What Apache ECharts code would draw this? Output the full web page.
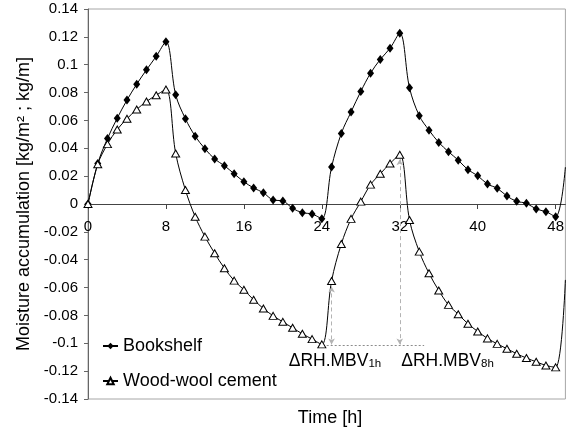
<!DOCTYPE html>
<html>
<head>
<meta charset="utf-8">
<script src="https://cdn.jsdelivr.net/npm/echarts@6/dist/echarts.min.js"></script>
<style>
  html, body { margin: 0; padding: 0; background: #fff; }
  #chart { width: 567px; height: 430px; }
</style>
</head>
<body>
<div id="chart"></div>
<script>
// Time in hours (one reading per hour over two 24 h cycles)
const hours = [
  0, 1, 2, 3, 4, 5, 6, 7, 8, 9, 10, 11, 12, 13, 14, 15, 16, 17, 18, 19, 20, 21, 22, 23, 24,
  25, 26, 27, 28, 29, 30, 31, 32, 33, 34, 35, 36, 37, 38, 39, 40, 41, 42, 43, 44, 45, 46, 47, 48, 49
];

// Moisture accumulation, kg/m² (bookshelf) and kg/m (wood-wool cement)
const bookshelf = [
  0, 0.029, 0.047, 0.0616, 0.0746, 0.086, 0.0963, 0.106, 0.1164, 0.0784,
  0.0612, 0.0487, 0.0397, 0.0323, 0.0275, 0.0217, 0.016, 0.0115, 0.0081, 0.0029,
  0.0022, -0.0031, -0.0062, -0.0072, -0.0105, 0.0265, 0.0507, 0.0661, 0.0808, 0.0939,
  0.1038, 0.1118, 0.1226, 0.0834, 0.0634, 0.053, 0.0442, 0.0375, 0.0315, 0.0246,
  0.0203, 0.0143, 0.0113, 0.0057, 0.0019, 0.0005, -0.0036, -0.0055, -0.0091, 0.0265
];

const woodWool = [
  0, 0.0285, 0.043, 0.0535, 0.0612, 0.0679, 0.0736, 0.0781, 0.0822, 0.0363,
  0.01, -0.0091, -0.0234, -0.0354, -0.0461, -0.055, -0.0616, -0.0688, -0.075, -0.0803,
  -0.0846, -0.0889, -0.0932, -0.097, -0.1008, -0.0553, -0.0287, -0.0107, 0.0017, 0.0139,
  0.0217, 0.0291, 0.0354, -0.0115, -0.0342, -0.0497, -0.0621, -0.0724, -0.0791, -0.086,
  -0.0915, -0.0965, -0.1004, -0.1039, -0.1075, -0.1106, -0.1133, -0.1159, -0.1173, -0.0545
];

const xTicks = [0, 8, 16, 24, 32, 40, 48];
const seriesNames = ['Bookshelf', 'Wood-wool cement'];

// MBV reading guides: 1 h and 8 h after the humidity step
const guide1h = { hour: 25, top: -0.0592, bottom: -0.1008 };
const guide8h = { hour: 32, top: 0.0322, bottom: -0.1008 };
const baseLine = { from: 24.5, to: 34.5, value: -0.1015 };
const guideLabels = [
  { main: 'ΔRH.MBV', sub: '1h', hour: 20.6, value: -0.1122 },
  { main: 'ΔRH.MBV', sub: '8h', hour: 32.15, value: -0.1122 }
];

const FONT = '"Liberation Sans", Arial, Helvetica, sans-serif';
const lastIdx = hours.length - 1;

// plot area layout
const GRID = { left: 88, right: 1, top: 9, bottom: 31, width: 567, height: 430 };
const plotHeight = GRID.height - GRID.top - GRID.bottom;
const Y_MIN = -0.14, Y_MAX = 0.14;
// the time axis runs through y = 0 rather than along the bottom edge
const xAxisOffset = -plotHeight * (0 - Y_MIN) / (Y_MAX - Y_MIN);

function toPairs(values) {
  // the final reading sits on the plot edge and carries no marker
  return hours.map((h, i) => i === lastIdx
    ? { value: [h, values[i]], symbol: 'none' }
    : [h, values[i]]);
}

const chart = echarts.init(document.getElementById('chart'), null, { renderer: 'canvas' });

const guideStyle = { color: '#b3b3b3', type: [4, 3], width: 1 };

chart.setOption({
  animation: false,
  textStyle: { fontFamily: FONT },
  grid: {
    left: GRID.left, right: GRID.right, top: GRID.top, bottom: GRID.bottom,
    show: true, borderColor: '#a6a6a6', borderWidth: 1
  },
  legend: {
    orient: 'vertical',
    left: 97, top: 332,
    itemWidth: 15, itemHeight: 8, itemGap: 17,
    textStyle: { fontSize: 18, color: '#000', fontFamily: FONT },
    data: seriesNames
  },
  xAxis: {
    type: 'value', min: 0, max: 49, interval: 8,
    position: 'bottom',
    offset: xAxisOffset,
    axisLine: { onZero: false, lineStyle: { color: '#444', width: 1 } },
    axisTick: { show: true, length: 5, customValues: xTicks, lineStyle: { color: '#444' } },
    axisLabel: { customValues: xTicks, fontSize: 15, color: '#000', margin: 15 },
    splitLine: { show: false }
  },
  yAxis: {
    type: 'value', min: Y_MIN, max: Y_MAX, interval: 0.02,
    name: 'Moisture accumulation [kg/m² ; kg/m]',
    nameLocation: 'middle', nameGap: 48,
    nameTextStyle: { fontSize: 18, color: '#000', fontFamily: FONT },
    axisLine: { show: true, onZero: false, lineStyle: { color: '#666', width: 1 } },
    axisTick: { show: true, length: 4, lineStyle: { color: '#666' } },
    axisLabel: { fontSize: 15, color: '#000', margin: 10 },
    splitLine: { show: false }
  },
  series: [
    {
      name: seriesNames[0],
      type: 'line',
      smooth: 0.35,
      data: toPairs(bookshelf),
      symbol: 'diamond',
      symbolSize: [7, 9],
      itemStyle: { color: '#000' },
      lineStyle: { color: '#000', width: 1 },
      z: 3,
      markLine: {
        silent: true, animation: false,
        symbol: ['none', 'none'],
        label: { show: false },
        lineStyle: { color: '#8c8c8c', type: [2, 2], width: 1 },
        data: [[
          { coord: [baseLine.from, baseLine.value] },
          { coord: [baseLine.to, baseLine.value] }
        ]]
      }
    },
    {
      name: seriesNames[1],
      type: 'line',
      smooth: 0.35,
      data: toPairs(woodWool),
      symbol: 'triangle',
      symbolSize: [8, 7],
      itemStyle: { color: '#fff', borderColor: '#000', borderWidth: 1 },
      lineStyle: { color: '#000', width: 1 },
      z: 4,
      markLine: {
        silent: true, animation: false,
        symbol: ['arrow', 'arrow'],
        symbolSize: [5, 6],
        label: { show: false },
        lineStyle: guideStyle,
        itemStyle: { color: '#999' },
        data: [
          [{ coord: [guide1h.hour, guide1h.top] }, { coord: [guide1h.hour, guide1h.bottom] }],
          [{ coord: [guide8h.hour, guide8h.top] }, { coord: [guide8h.hour, guide8h.bottom] }]
        ]
      }
    }
  ]
});

// Axis title for time and the MBV labels, placed from the axis scales
const graphics = [{
  type: 'text',
  x: (GRID.left + GRID.width - GRID.right) / 2 + 3,
  y: 418,
  style: { text: 'Time [h]', fill: '#000', font: '18px ' + FONT, align: 'center', verticalAlign: 'middle' }
}];
guideLabels.forEach(lbl => {
  const p = chart.convertToPixel({ gridIndex: 0 }, [lbl.hour, lbl.value]);
  graphics.push({
    type: 'text',
    x: p[0], y: p[1],
    style: {
      text: '{m|' + lbl.main + '}{s|' + lbl.sub + '}',
      align: 'left', verticalAlign: 'middle',
      rich: {
        m: { fontSize: 17.5, fontFamily: FONT, fill: '#000', lineHeight: 20, verticalAlign: 'bottom' },
        s: { fontSize: 11.5, fontFamily: FONT, fill: '#000', lineHeight: 12, verticalAlign: 'bottom' }
      }
    }
  });
});
chart.setOption({ graphic: graphics });
</script>
</body>
</html>
